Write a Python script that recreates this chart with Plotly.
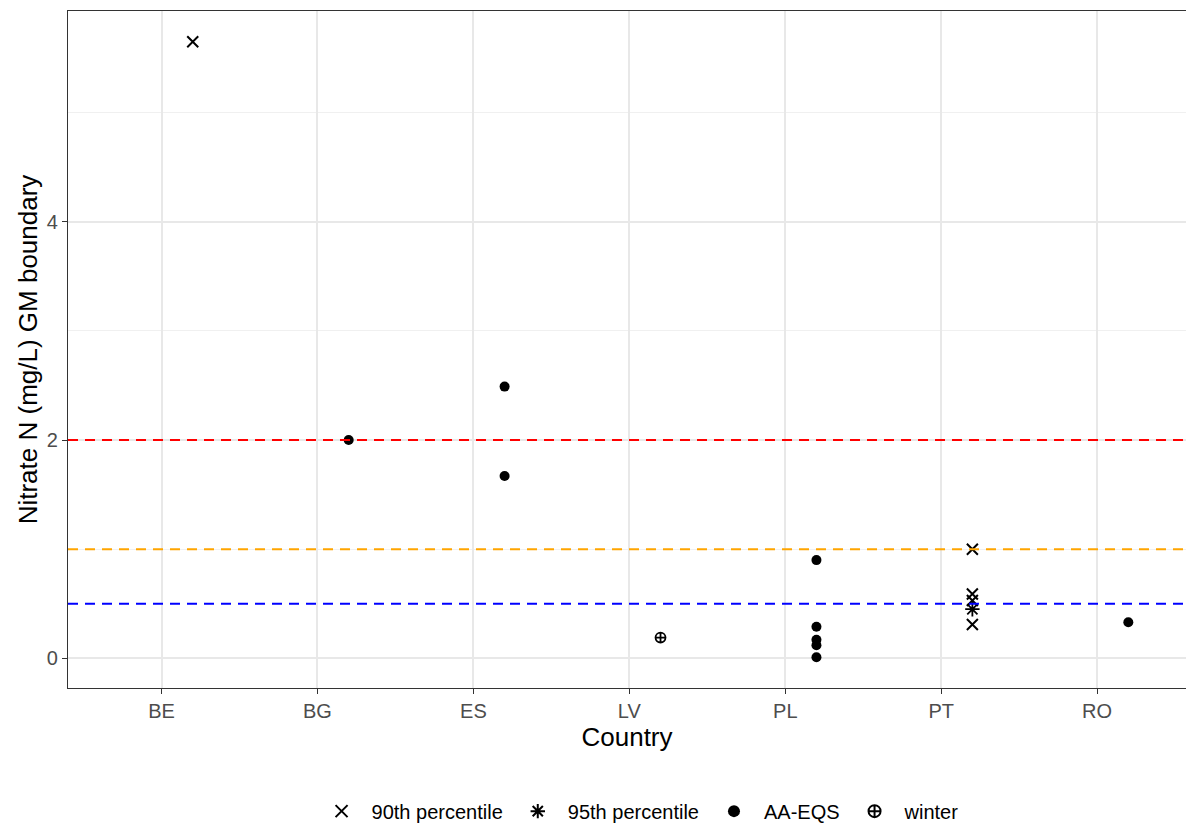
import plotly.graph_objects as go

# Categories on the x axis
countries = ["BE", "BG", "ES", "LV", "PL", "PT", "RO"]

# Boundary values by metric type (country, value)
p90_country = ["BE", "PT", "PT", "PT", "PT"]
p90_value = [5.65, 1.0, 0.59, 0.53, 0.31]

p95_country = ["PT"]
p95_value = [0.45]

aaeqs_country = ["BG", "ES", "ES", "PL", "PL", "PL", "PL", "PL", "RO"]
aaeqs_value = [2.0, 2.49, 1.67, 0.9, 0.29, 0.17, 0.12, 0.01, 0.33]

winter_country = ["LV"]
winter_value = [0.19]

# Reference thresholds
thresholds = [2.0, 1.0, 0.5]
threshold_colors = ["#ff0000", "#ffa500", "#0000ff"]

NUDGE = 0.2
pos = {c: i + 1 for i, c in enumerate(countries)}


def xs(cs):
    return [pos[c] + NUDGE for c in cs]


fig = go.Figure()

for yv, col in zip(thresholds, threshold_colors):
    fig.add_shape(type="line", xref="paper", x0=0, x1=1, yref="y", y0=yv, y1=yv,
                  line=dict(color=col, width=2, dash="10px,7px"), layer="above")

series = [
    ("90th percentile", p90_country, p90_value, "x-thin-open", 11, 2.0),
    ("95th percentile", p95_country, p95_value, "asterisk-open", 12, 1.8),
    ("AA-EQS", aaeqs_country, aaeqs_value, "circle", 10, 0),
    ("winter", winter_country, winter_value, "circle-cross-open", 10, 1.8),
]
for name, cs, vals, sym, size, lw in series:
    fig.add_trace(go.Scatter(
        x=xs(cs), y=vals, mode="markers", name=name,
        marker=dict(symbol=sym, size=size, color="black",
                    line=dict(color="black", width=lw)),
    ))

fig.update_layout(
    width=1186, height=826,
    margin=dict(l=68, r=0, t=11, b=138),
    paper_bgcolor="white", plot_bgcolor="white",
    font=dict(family="Liberation Sans, Arial, sans-serif", color="black"),
    showlegend=True,
    legend=dict(orientation="h", xref="container", yref="container",
                x=0.538, y=0.018, xanchor="center", yanchor="middle",
                font=dict(size=20, color="black"), itemsizing="constant",
                traceorder="normal", itemwidth=50),
)

fig.update_xaxes(
    range=[0.4, 7.57],
    tickmode="array", tickvals=list(range(1, len(countries) + 1)), ticktext=countries,
    showgrid=True, gridcolor="#e8e8e8", gridwidth=1.5,
    showline=True, linecolor="#333333", linewidth=1.2, mirror=True,
    ticks="outside", ticklen=5, tickcolor="#333333", tickwidth=1.2,
    tickfont=dict(size=20, color="#4d4d4d"),
    title=dict(text="Country", font=dict(size=26, color="black"), standoff=4),
    zeroline=False,
)

fig.update_yaxes(
    range=[-0.272, 5.932],
    tickmode="array", tickvals=[0, 2, 4], ticktext=["0", "2", "4"],
    showgrid=True, gridcolor="#e8e8e8", gridwidth=1.5,
    minor=dict(tickmode="array", tickvals=[1, 3, 5], showgrid=True,
               gridcolor="#f0f0f0", gridwidth=1, ticks=""),
    showline=True, linecolor="#333333", linewidth=1.2,
    ticks="outside", ticklen=5, tickcolor="#333333", tickwidth=1.2,
    tickfont=dict(size=20, color="#4d4d4d"),
    title=dict(text="Nitrate N (mg/L) GM boundary", font=dict(size=26, color="black"),
               standoff=1),
    zeroline=False,
)

fig.write_html("out.html")
